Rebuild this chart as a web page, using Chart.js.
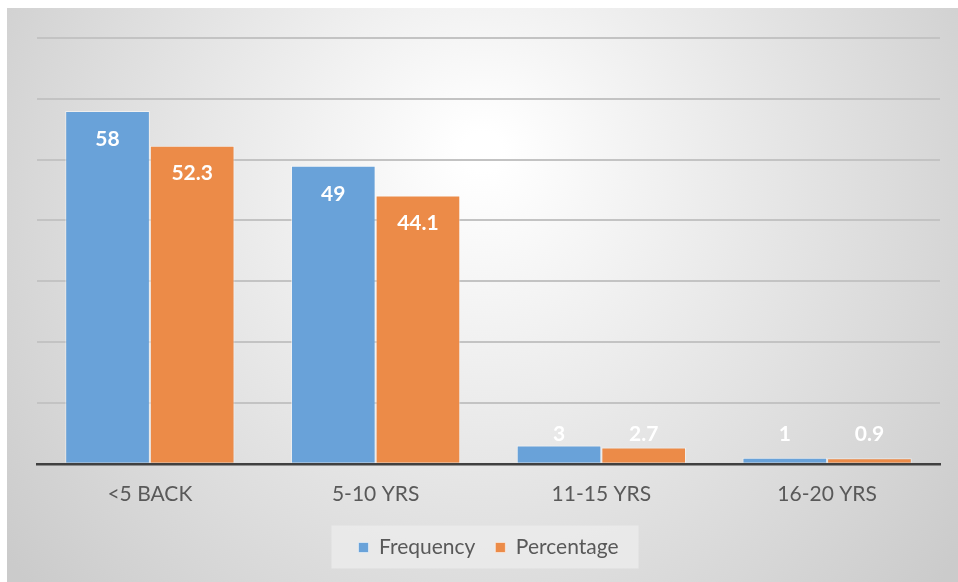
<!DOCTYPE html>
<html>
<head>
<meta charset="utf-8">
<script src="https://cdn.jsdelivr.net/npm/chart.js@4"></script>
<style>
  html, body { margin: 0; padding: 0; background: #fff; }
  #wrap { position: absolute; left: 7px; top: 8px; width: 951px; height: 574px; }
</style>
</head>
<body>
<div id="wrap"><canvas id="chart"></canvas></div>
<script>
// Data
const categories = ['<5 BACK', '5-10 YRS', '11-15 YRS', '16-20 YRS'];
const frequency = [58, 49, 3, 1];
const percentage = [52.3, 44.1, 2.7, 0.9];

const FONT = 'Lato, sans-serif';

// gradient background + legend panel
const backgroundPlugin = {
    id: 'bg',
    beforeDraw(chart) {
        const { ctx, width, height } = chart;
        ctx.save();
        const g = ctx.createRadialGradient(width * 0.5, height * 0.25, 20, width * 0.5, height * 0.35, width * 0.62);
        g.addColorStop(0, '#ffffff');
        g.addColorStop(1, '#cbcbcb');
        ctx.fillStyle = g;
        ctx.fillRect(0, 0, width, height);

        const lg = chart.legend;
        if (lg && lg.legendHitBoxes && lg.legendHitBoxes.length) {
            const boxes = lg.legendHitBoxes;
            const x0 = boxes[0].left - 27;
            const last = boxes[boxes.length - 1];
            const x1 = last.left + last.width + 20;
            const cy = boxes[0].top + boxes[0].height / 2;
            ctx.fillStyle = 'rgba(235,235,235,0.85)';
            ctx.fillRect(x0, cy - 22, x1 - x0, 43);
        }
        ctx.restore();
    }
};

// value labels, Excel "inside end" style
const labelPlugin = {
    id: 'valueLabels',
    afterDatasetsDraw(chart) {
        const { ctx } = chart;
        ctx.save();
        ctx.font = 'bold 21px ' + FONT;
        ctx.fillStyle = '#ffffff';
        ctx.textAlign = 'center';
        ctx.textBaseline = 'middle';
        chart.data.datasets.forEach((ds, i) => {
            chart.getDatasetMeta(i).data.forEach((bar, j) => {
                const y = Math.min(bar.y + 28, bar.base - 29);
                ctx.fillText(String(ds.data[j]), bar.x, y);
            });
        });
        ctx.restore();
    }
};

const ctx = document.getElementById('chart').getContext('2d');
new Chart(ctx, {
    type: 'bar',
    data: {
        labels: categories,
        datasets: [
            {
                label: 'Frequency',
                data: frequency,
                backgroundColor: '#69a2d9',
                borderColor: 'rgba(255,255,255,0.5)',
                borderWidth: 1,
                categoryPercentage: 0.75,
                barPercentage: 1.0
            },
            {
                label: 'Percentage',
                data: percentage,
                backgroundColor: '#ec8b48',
                borderColor: 'rgba(255,255,255,0.5)',
                borderWidth: 1,
                categoryPercentage: 0.75,
                barPercentage: 1.0
            }
        ]
    },
    options: {
        responsive: true,
        maintainAspectRatio: false,
        animation: false,
        layout: { padding: { left: 30, right: 18, top: 30, bottom: 14 } },
        plugins: {
            tooltip: { enabled: false },
            legend: {
                position: 'bottom',
                labels: {
                    color: '#595959',
                    font: { family: FONT, size: 21 },
                    boxWidth: 10,
                    boxHeight: 10,
                    padding: 20
                }
            }
        },
        scales: {
            x: {
                grid: { display: false },
                border: { color: '#404040', width: 2.5 },
                ticks: {
                    color: '#595959',
                    font: { family: FONT, size: 21 },
                    padding: 10
                }
            },
            y: {
                min: 0,
                max: 70,
                ticks: { display: false, stepSize: 10 },
                border: { display: false },
                grid: { color: '#c3c3c3', lineWidth: 2, drawTicks: false }
            }
        }
    },
    plugins: [backgroundPlugin, labelPlugin]
});
</script>
</body>
</html>
